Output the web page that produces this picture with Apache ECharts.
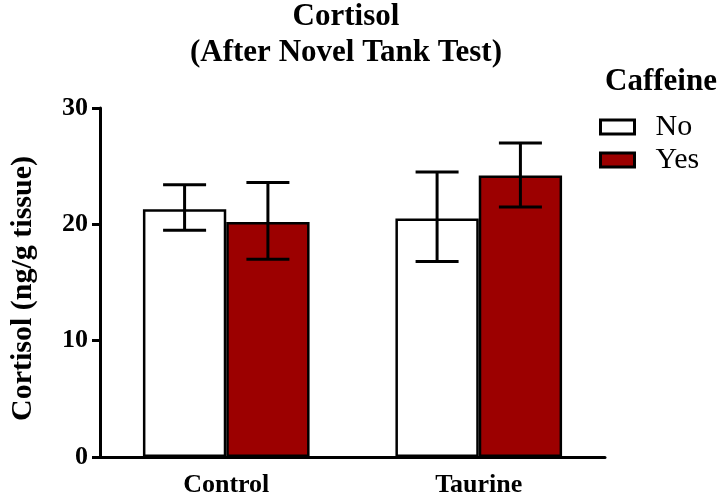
<!DOCTYPE html>
<html>
<head>
<meta charset="utf-8">
<script src="https://cdn.jsdelivr.net/npm/echarts@6/dist/echarts.min.js"></script>
<style>html,body{margin:0;padding:0;background:#fff;}#c{width:723px;height:498px;}</style>
</head>
<body>
<div id="c"></div>
<script>
const categories = ['Control', 'Taurine'];
const groupNames = ['No', 'Yes'];
const noMean = [21.3, 20.5];
const yesMean = [20.2, 24.2];
const noUpper = [23.4, 24.5];
const noLower = [19.5, 16.8];
const yesUpper = [23.6, 27.0];
const yesLower = [17.0, 21.5];
const yTicks = [0, 10, 20, 30];

const FONT = 'Liberation Serif';
const GAP = 0.34;

function errData(up, lo) { return categories.map((c, i) => [i, up[i], lo[i]]); }

function errRender(side) {
  return function (params, api) {
    const band = api.size([1, 0])[0];
    const barW = band * (1 - GAP) / 2;
    const off = side * barW / 2;
    const top = api.coord([api.value(0), api.value(1)]);
    const bot = api.coord([api.value(0), api.value(2)]);
    const cx = top[0] + off;
    const half = 21.5;
    const st = { stroke: '#000', lineWidth: 3 };
    return {
      type: 'group',
      children: [
        { type: 'line', shape: { x1: cx, y1: top[1], x2: cx, y2: bot[1] }, style: st },
        { type: 'line', shape: { x1: cx - half, y1: top[1], x2: cx + half, y2: top[1] }, style: st },
        { type: 'line', shape: { x1: cx - half, y1: bot[1], x2: cx + half, y2: bot[1] }, style: st }
      ]
    };
  };
}

const chart = echarts.init(document.getElementById('c'), null, { renderer: 'canvas' });
chart.setOption({
  backgroundColor: '#fff',
  animation: false,
  textStyle: { fontFamily: FONT },
  title: [
    {
      text: 'Cortisol\n(After Novel Tank Test)',
      left: 341, top: -6, textAlign: 'center',
      textStyle: { fontFamily: FONT, fontSize: 31, fontWeight: 'bold', color: '#000', lineHeight: 36 }
    },
    {
      text: 'Caffeine',
      left: 600, top: 61,
      textStyle: { fontFamily: FONT, fontSize: 31, fontWeight: 'bold', color: '#000' }
    }
  ],
  legend: {
    orient: 'vertical',
    left: 594, top: 107,
    icon: 'rect',
    itemWidth: 34, itemHeight: 14, itemGap: 3,
    data: groupNames,
    itemStyle: { borderColor: '#000', borderWidth: 3 },
    textStyle: { fontFamily: FONT, fontSize: 30, color: '#000', padding: [0, 0, 0, 16] }
  },
  grid: { left: 78, right: 118, top: 108, bottom: 41, containLabel: false },
  xAxis: {
    type: 'category',
    data: categories,
    axisLine: { lineStyle: { color: '#000', width: 3 } },
    axisTick: { alignWithLabel: true, length: 10, lineStyle: { color: '#000', width: 3 } },
    axisLabel: { fontFamily: FONT, fontSize: 26, fontWeight: 'bold', color: '#000', margin: 15 }
  },
  yAxis: {
    type: 'value',
    min: yTicks[0], max: yTicks[yTicks.length - 1], interval: 10,
    name: 'Cortisol (ng/g tissue)',
    nameLocation: 'middle', nameGap: 62, nameRotate: 90,
    nameTextStyle: { fontFamily: FONT, fontSize: 30, fontWeight: 'bold', color: '#000', padding: [0, 12, 0, 0] },
    splitLine: { show: false },
    axisLine: { show: true, lineStyle: { color: '#000', width: 3 } },
    axisTick: { show: true, length: 8, lineStyle: { color: '#000', width: 3 } },
    axisLabel: { fontFamily: FONT, fontSize: 26, fontWeight: 'bold', color: '#000', margin: 12 }
  },
  series: [
    {
      name: groupNames[0], type: 'bar', data: noMean,
      barGap: '0%', barCategoryGap: (GAP * 100) + '%',
      itemStyle: { color: '#ffffff', borderColor: '#000', borderWidth: 2.5 }
    },
    {
      name: groupNames[1], type: 'bar', data: yesMean,
      barGap: '0%', barCategoryGap: (GAP * 100) + '%',
      itemStyle: { color: '#9c0000', borderColor: '#000', borderWidth: 2.5 }
    },
    {
      type: 'custom', name: 'errNo', renderItem: errRender(-1), data: errData(noUpper, noLower),
      encode: { x: 0, y: [1, 2] }, z: 5, silent: true
    },
    {
      type: 'custom', name: 'errYes', renderItem: errRender(1), data: errData(yesUpper, yesLower),
      encode: { x: 0, y: [1, 2] }, z: 5, silent: true
    }
  ]
});
</script>
</body>
</html>
